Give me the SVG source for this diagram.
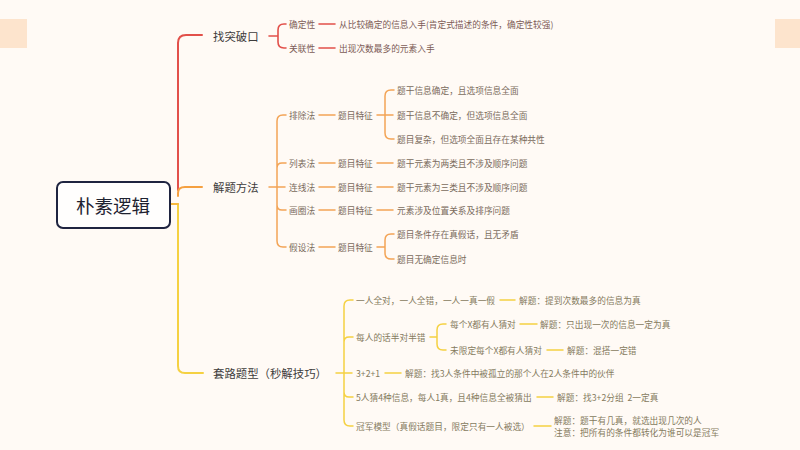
<svg xmlns="http://www.w3.org/2000/svg" width="800" height="450" viewBox="0 0 800 450">
<style>
text{font-family:"Noto Sans CJK SC","Liberation Sans",sans-serif;dominant-baseline:central}
.root{font-size:18.5px;fill:#1e2230;text-anchor:middle}
.l1{font-size:11.4px;fill:#3e3c3c}
.t{font-size:8.7px;fill:#7a6a5c}
.r{fill:#7c5a55}
.y{fill:#857a5e}
.c{fill:none;stroke-linecap:round;stroke-linejoin:round}
.red{stroke:#e2504a;stroke-width:1.6}
.ora{stroke:#f3a456;stroke-width:1.5}
.yel{stroke:#f5d142;stroke-width:1.5}
.thick{stroke-width:2}
</style>
<rect width="800" height="450" fill="#fffaf5"/>
<rect x="0" y="19" width="27" height="29" fill="#fde4cd"/>
<rect x="775" y="19" width="25" height="29" fill="#fde4cd"/>
<g id="connectors">
<path class="c yel thick" d="M178 204V366Q178 373 185 373H203"/>
<path class="c red thick" d="M178 190V43Q178 35 186 35H202"/>
<path class="c thick" stroke="#f5a040" d="M178 196V193Q178 187 185 187H202"/>
<path class="c thick" stroke="#f5b840" d="M170 204H178"/>
<path class="c red" d="M269 36H278M286 24H284Q278 24 278 30V42Q278 48 284 48H286M319 24H335M319 48H335"/>
<path class="c ora" d="M269 187H285M286 115H283Q277 115 277 121V241Q277 247 283 247H286M277 168Q277 163 282 163H286M277 205Q277 210 282 210H286"/>
<path class="c ora" d="M319 115H335M319 163H335M319 187H335M319 210H335M319 247H335"/>
<path class="c ora" d="M377 115H385M394 90H391Q385 90 385 96V133Q385 139 391 139H394M385 115H393M377 163H393M377 187H393M377 210H393"/>
<path class="c ora" d="M377 247H385M394 234H391Q385 234 385 240V253Q385 259 391 259H394"/>
<path class="c yel" d="M336 373H352M353 300H350Q344 300 344 306V420Q344 426 350 426H353M344 342Q344 337 349 337H353M344 392Q344 397 349 397H353"/>
<path class="c yel" d="M500 300H515M430 337H437M446 324H443Q437 324 437 330V344Q437 350 443 350H446M520 324H537M547 350H563M385 373H401M537 397H553M534 426H551"/>
</g>
<g id="root"><rect x="57" y="182" width="113" height="46" rx="6" fill="#fffefd" stroke="#1f2440" stroke-width="2"/><text class="root" x="113" y="205">朴素逻辑</text></g>
<g id="n-tupo"><text class="l1" x="213" y="36">找突破口</text></g>
<g id="n-jieti"><text class="l1" x="213" y="187">解题方法</text></g>
<g id="n-taolu"><text class="l1" x="213" y="373">套路题型（秒解技巧）</text></g>
<g id="n-queding"><text class="t r" x="289" y="24">确定性</text></g>
<g id="n-queding-1"><text class="t r" x="339" y="24">从比较确定的信息入手(肯定式描述的条件，确定性较强)</text></g>
<g id="n-guanlian"><text class="t r" x="289" y="48">关联性</text></g>
<g id="n-guanlian-1"><text class="t r" x="339" y="48">出现次数最多的元素入手</text></g>
<g id="n-paichu"><text class="t" x="289" y="115">排除法</text></g>
<g id="n-paichu-t"><text class="t" x="338" y="115">题目特征</text></g>
<g id="n-paichu-1"><text class="t" x="397" y="90">题干信息确定，且选项信息全面</text></g>
<g id="n-paichu-2"><text class="t" x="397" y="115">题干信息不确定，但选项信息全面</text></g>
<g id="n-paichu-3"><text class="t" x="397" y="139">题目复杂，但选项全面且存在某种共性</text></g>
<g id="n-liebiao"><text class="t" x="289" y="163">列表法</text></g>
<g id="n-liebiao-t"><text class="t" x="338" y="163">题目特征</text></g>
<g id="n-liebiao-1"><text class="t" x="397" y="163">题干元素为两类且不涉及顺序问题</text></g>
<g id="n-lianxian"><text class="t" x="289" y="187">连线法</text></g>
<g id="n-lianxian-t"><text class="t" x="338" y="187">题目特征</text></g>
<g id="n-lianxian-1"><text class="t" x="397" y="187">题干元素为三类且不涉及顺序问题</text></g>
<g id="n-huaquan"><text class="t" x="289" y="210">画圈法</text></g>
<g id="n-huaquan-t"><text class="t" x="338" y="210">题目特征</text></g>
<g id="n-huaquan-1"><text class="t" x="397" y="210">元素涉及位置关系及排序问题</text></g>
<g id="n-jiashe"><text class="t" x="289" y="247">假设法</text></g>
<g id="n-jiashe-t"><text class="t" x="338" y="247">题目特征</text></g>
<g id="n-jiashe-1"><text class="t" x="397" y="234">题目条件存在真假话，且无矛盾</text></g>
<g id="n-jiashe-2"><text class="t" x="397" y="259">题目无确定信息时</text></g>
<g id="n-y1"><text class="t y" x="356" y="300">一人全对，一人全错，一人一真一假</text></g>
<g id="n-y1-1"><text class="t y" x="519" y="300">解题：提到次数最多的信息为真</text></g>
<g id="n-y2"><text class="t y" x="356" y="337">每人的话半对半错</text></g>
<g id="n-y2-a"><text class="t y" x="450" y="324">每个X都有人猜对</text></g>
<g id="n-y2-a1"><text class="t y" x="540" y="324">解题：只出现一次的信息一定为真</text></g>
<g id="n-y2-b"><text class="t y" x="450" y="350">未限定每个X都有人猜对</text></g>
<g id="n-y2-b1"><text class="t y" x="567" y="350">解题：混搭一定错</text></g>
<g id="n-y3"><text class="t y" x="356" y="373">3+2+1</text></g>
<g id="n-y3-1"><text class="t y" x="405" y="373">解题：找3人条件中被孤立的那个人在2人条件中的伙伴</text></g>
<g id="n-y4"><text class="t y" x="356" y="397">5人猜4种信息，每人1真，且4种信息全被猜出</text></g>
<g id="n-y4-1"><text class="t y" x="557" y="397" xml:space="preserve">解题：找3+2分组  2一定真</text></g>
<g id="n-y5"><text class="t y" x="356" y="426">冠军模型（真假话题目，限定只有一人被选）</text></g>
<g id="n-y5-1"><text class="t y" x="554" y="420">解题：题干有几真，就选出现几次的人</text><text class="t y" x="554" y="432">注意：把所有的条件都转化为谁可以是冠军</text></g>
</svg>
